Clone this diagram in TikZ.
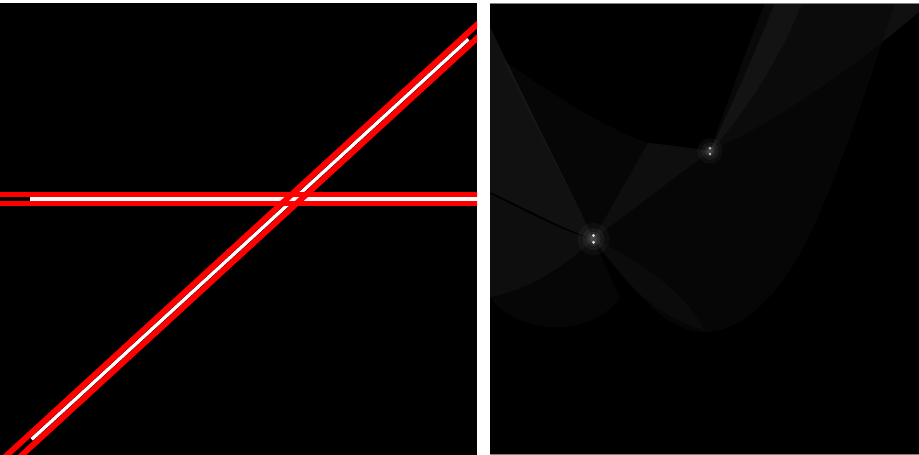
\documentclass[tikz,border=0pt]{standalone}
\begin{document}
\begin{tikzpicture}[x=1pt,y=-1pt,
  redline/.style={draw=red,line width=5.2pt},
  reddiag/.style={draw=red,line width=5.8pt},
  whiteline/.style={draw=white,line width=3.4pt},
  haze/.style={fill=white,fill opacity=#1},
  dotp/.style={fill=white!85!black}]
\useasboundingbox (0,0) rectangle (919,455);
\fill[white] (0,0) rectangle (919,455);
% panels
\fill[black] (0,3) rectangle (477,455);
\fill[black] (490,3) rectangle (919,454.5);
% ---------- left panel ----------
\begin{scope}
\clip (0,3) rectangle (477,455);
\coordinate (h0) at (-5,199);
\coordinate (h1) at (482,199);
\coordinate (hw) at (30,199);
\coordinate (d0) at (-12.5,479.8);
\coordinate (d1) at (488.9,20.5);
\coordinate (dw0) at (31.7,439.3);
\coordinate (dw1) at (468.3,39.3);
\draw[whiteline] (hw) -- (h1);
\draw[whiteline] (dw0) -- (dw1);
\draw[redline] ([shift={(0,-4.4)}]h0) -- ([shift={(0,-4.4)}]h1);
\draw[redline] ([shift={(0,4.4)}]h0) -- ([shift={(0,4.4)}]h1);
\draw[reddiag] ([shift={(3.38,3.69)}]d0) -- ([shift={(3.38,3.69)}]d1);
\draw[reddiag] ([shift={(-3.38,-3.69)}]d0) -- ([shift={(-3.38,-3.69)}]d1);
\end{scope}
% ---------- right panel ----------
\begin{scope}
\clip (490,3) rectangle (919,454);
\coordinate (P1) at (593.5,239);
\coordinate (P2) at (710,151);
% faint base region right/below
\fill[haze=0.022] (P1) .. controls (640,300) and (670,332) .. (704,332)
   .. controls (750,332) and (790,280) .. (814,225)
   .. controls (840,170) and (870,80) .. (895,3) -- (919,3) -- (919,12)
   .. controls (860,60) and (800,110) .. (P2) -- cycle;
\fill[haze=0.025] (P1) .. controls (625,285) and (660,318) .. (704,330)
   .. controls (690,300) and (650,265) .. (P1) -- cycle;
% middle region under the upper arc
\fill[haze=0.022] (503,60) .. controls (560,100) and (610,130) .. (648,143)
   -- (P1) -- cycle;
% upper-left wing of P1
\fill[haze=0.065] (490,27) .. controls (530,110) and (570,190) .. (P1)
   .. controls (560,228) and (520,205) .. (490,192) -- cycle;
% lower-left wing of P1
\fill[haze=0.055] (490,194) .. controls (530,213) and (565,233) .. (P1)
   .. controls (570,262) and (530,290) .. (490,297) -- cycle;
\fill[haze=0.025] (490,297) .. controls (515,332) and (585,342) .. (620,298)
   -- (P1) .. controls (570,262) and (530,290) .. (490,297) -- cycle;
% band between P1 and P2
\fill[haze=0.055] (P1) -- (648,143) .. controls (670,145) and (690,148) .. (P2) -- cycle;
% upper-right fan of P2
\fill[haze=0.045] (P2) .. controls (730,110) and (760,40) .. (775,3) -- (919,3) -- (919,12)
   .. controls (850,70) and (780,120) .. (P2) -- cycle;
\fill[haze=0.035] (P2) .. controls (725,110) and (750,40) .. (765,3) -- (802,3)
   .. controls (780,60) and (740,120) .. (P2) -- cycle;
% glows
\foreach \r/\o in {16/0.035,11/0.05,7/0.07,4/0.1}{
  \fill[haze=\o] (P1) circle (\r);
  \fill[haze=\o] (P2) circle (\r*0.8);
}
\fill[dotp] (593.5,235.5) circle (1.7);
\fill[dotp] (593.5,242.3) circle (1.7);
\fill[white!75!black] (710,148.3) circle (1.4);
\fill[white!75!black] (710,154) circle (1.4);
\end{scope}
% grey borders of right panel
\draw[gray,line width=1pt] (490,3.5) -- (919,3.5);
\draw[gray,line width=1pt] (490,454) -- (919,454);
\end{tikzpicture}
\end{document}
